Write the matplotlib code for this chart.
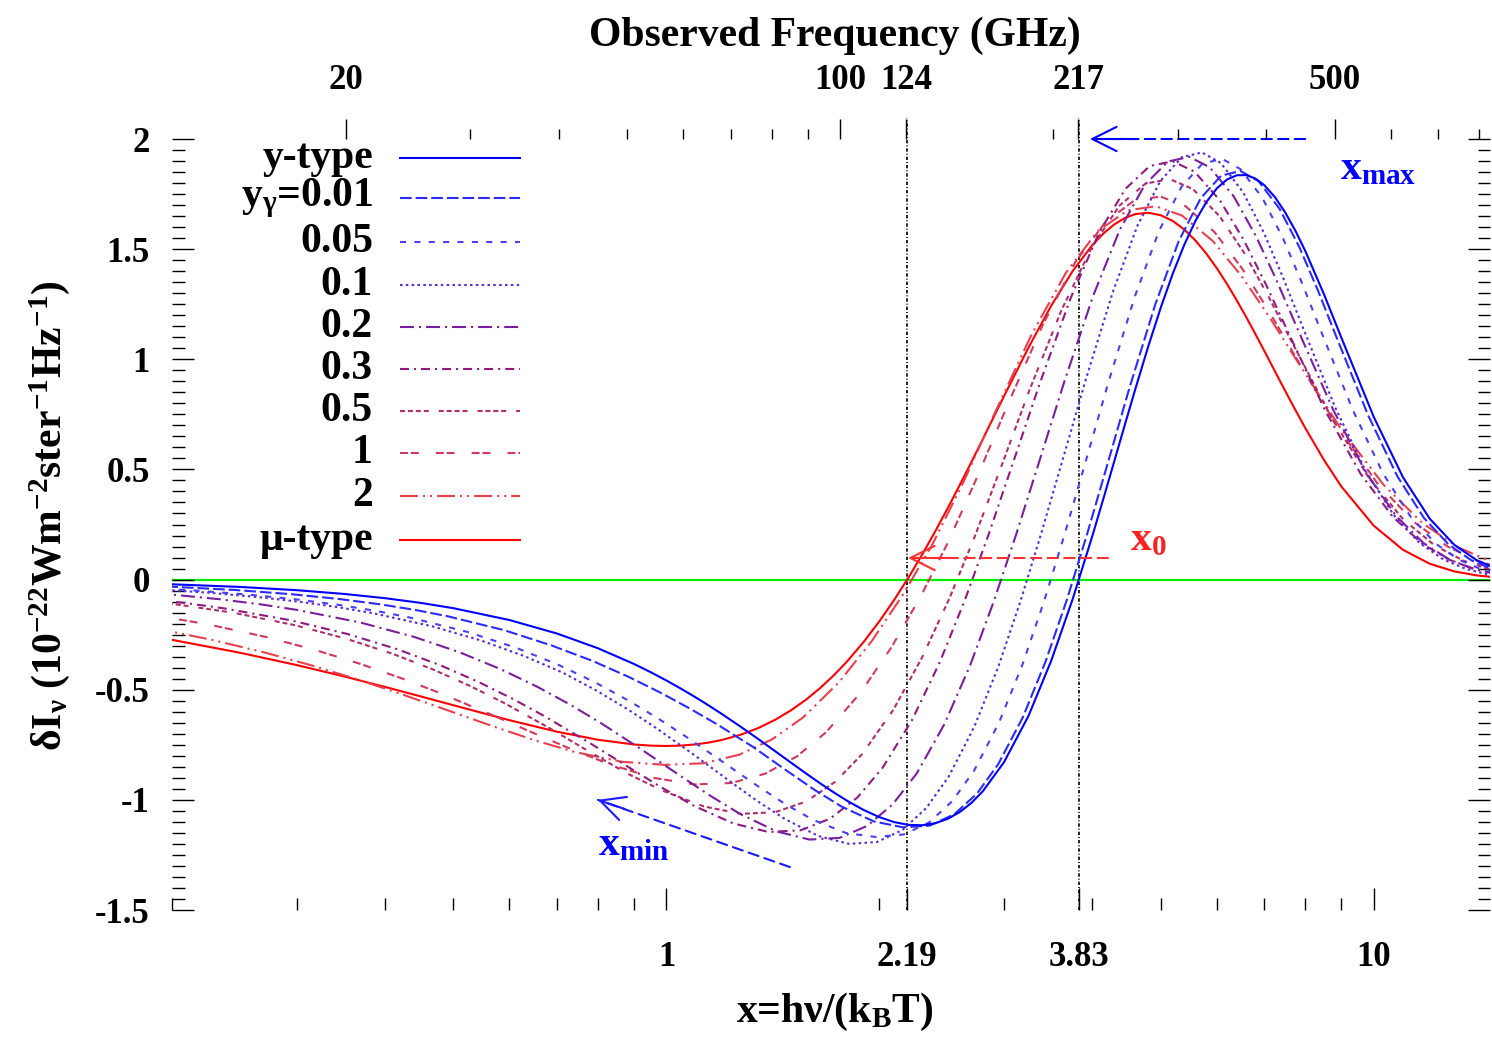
import matplotlib
matplotlib.use('Agg')
import numpy as np
import matplotlib.pyplot as plt
from matplotlib.ticker import FixedLocator, FixedFormatter, NullFormatter
from matplotlib.lines import Line2D

plt.rcParams['font.family'] = ['Liberation Serif', 'DejaVu Serif']
plt.rcParams['font.weight'] = 'bold'
plt.rcParams['mathtext.fontset'] = 'custom'
plt.rcParams['mathtext.rm'] = 'Liberation Serif:bold'
plt.rcParams['mathtext.it'] = 'Liberation Serif:bold'
plt.rcParams['mathtext.bf'] = 'Liberation Serif:bold'
plt.rcParams['axes.unicode_minus'] = False

# GHz per unit of x = h nu / (k T), T = 2.725 K
GHZ_PER_X = 56.78

# ---- data ----
x_grid = [0.2, 0.25, 0.3, 0.35, 0.4, 0.45, 0.5, 0.6, 0.7, 0.8,
          0.9, 0.95, 1.0, 1.05, 1.1, 1.15, 1.2, 1.275, 1.35, 1.425,
          1.5, 1.575, 1.65, 1.725, 1.8, 1.9, 2.0, 2.1, 2.2, 2.3,
          2.4, 2.5, 2.6, 2.7, 2.8, 3.0, 3.25, 3.5, 3.75, 4.0,
          4.15, 4.3, 4.45, 4.6, 4.8, 5.0, 5.2, 5.4, 5.6, 5.8,
          6.0, 6.2, 6.4, 6.6, 6.8, 7.0, 7.25, 7.5, 7.75, 8.0,
          8.5, 9.0, 10, 11, 12, 13, 14, 15]

dI_ytype = [-0.0215, -0.0335, -0.0481, -0.0651, -0.0844, -0.1061, -0.1300, -0.1837, -0.2447, -0.3116,
            -0.3832, -0.4203, -0.4581, -0.4963, -0.5348, -0.5734, -0.6119, -0.6691, -0.7251, -0.7793,
            -0.8310, -0.8798, -0.9252, -0.9666, -1.0037, -1.0457, -1.0784, -1.1012, -1.1136, -1.1153,
            -1.1060, -1.0858, -1.0548, -1.0133, -0.9616, -0.8299, -0.6189, -0.3682, -0.0917, 0.1968,
            0.3701, 0.5404, 0.7055, 0.8630, 1.0588, 1.2353, 1.3900, 1.5218, 1.6299, 1.7143,
            1.7759, 1.8157, 1.8353, 1.8363, 1.8209, 1.7909, 1.7361, 1.6656, 1.5831, 1.4925,
            1.2968, 1.0979, 0.7384, 0.4639, 0.2762, 0.1575, 0.0866, 0.0462]

dI_mutype = [-0.2735, -0.3327, -0.3880, -0.4395, -0.4872, -0.5308, -0.5706, -0.6384, -0.6905, -0.7271,
             -0.7486, -0.7538, -0.7554, -0.7535, -0.7482, -0.7395, -0.7275, -0.7037, -0.6732, -0.6364,
             -0.5936, -0.5454, -0.4921, -0.4342, -0.3721, -0.2836, -0.1897, -0.0914, 0.0103, 0.1143,
             0.2196, 0.3254, 0.4306, 0.5346, 0.6365, 0.8315, 1.0529, 1.2434, 1.3990, 1.5180,
             1.5719, 1.6129, 1.6419, 1.6590, 1.6652, 1.6540, 1.6277, 1.5884, 1.5382, 1.4793,
             1.4135, 1.3427, 1.2686, 1.1924, 1.1156, 1.0392, 0.9455, 0.8552, 0.7692, 0.6885,
             0.5439, 0.4225, 0.2445, 0.1350, 0.0718, 0.0370, 0.0186, 0.0091]

x_yg001 = [0.1963, 0.2454, 0.2945, 0.3436, 0.3927, 0.4418, 0.4909, 0.5891, 0.6872, 0.7854,
           0.8836, 0.9818, 1.080, 1.178, 1.325, 1.473, 1.620, 1.767, 1.964, 2.160, 2.356,
           2.553, 2.749, 2.945, 3.191, 3.436, 3.682, 3.927, 4.222, 4.516, 4.909, 5.301, 5.694,
           6.087, 6.480, 6.872, 7.363, 7.854, 8.345, 8.836, 9.818, 10.80, 11.78, 12.76, 13.74,
           14.73, 15.71]
dI_yg001 = [-0.0312, -0.0472, -0.0662, -0.0877, -0.1117, -0.1380, -0.1667, -0.2293, -0.2985,
            -0.3686, -0.4411, -0.5140, -0.5861, -0.6560, -0.7592, -0.8634, -0.9548, -1.0298,
            -1.0978, -1.1247, -1.1171, -1.0653, -0.9712, -0.8382, -0.6251, -0.3719, -0.0926,
            0.1988, 0.5458, 0.8716, 1.2477, 1.5370, 1.7314, 1.8339, 1.8547, 1.8088, 1.6823,
            1.5074, 1.3098, 1.1089, 0.7458, 0.4685, 0.2790, 0.1591, 0.0875, 0.0467, 0.0242]

x_yg005 = [0.1698, 0.2134, 0.2572, 0.3012, 0.3454, 0.3897, 0.4341, 0.5232, 0.6128, 0.7026,
           0.7927, 0.8831, 0.9737, 1.0645, 1.2010, 1.3379, 1.4752, 1.6126, 1.7965, 1.9808,
           2.1655, 2.3506, 2.5361, 2.7219, 2.9546, 3.1876, 3.4210, 3.6550, 3.9360, 4.2176,
           4.5940, 4.9705, 5.3482, 5.7259, 6.1052, 6.4850, 6.9601, 7.4357, 7.9119, 8.3889,
           9.346, 10.304, 11.264, 12.227, 13.192, 14.157, 15.123]
dI_yg005 = [-0.0323, -0.0488, -0.0685, -0.0908, -0.1156, -0.1430, -0.1726, -0.2376, -0.3094,
            -0.3862, -0.4664, -0.5485, -0.6308, -0.7118, -0.8274, -0.9317, -1.0210, -1.0911,
            -1.1510, -1.1686, -1.1569, -1.1033, -1.0058, -0.8681, -0.6474, -0.3851, -0.0959,
            0.2047, 0.5620, 0.8975, 1.2847, 1.5827, 1.7829, 1.8883, 1.9098, 1.8625, 1.7322,
            1.5522, 1.3487, 1.1418, 0.7679, 0.4825, 0.2872, 0.1638, 0.0901, 0.0480, 0.0250]

x_yg01 = [0.1478, 0.1866, 0.2258, 0.2653, 0.3050, 0.3450, 0.3852, 0.4661, 0.5476, 0.6296,
          0.7121, 0.7951, 0.8783, 0.9619, 1.0879, 1.2146, 1.3419, 1.4697, 1.6409, 1.8127,
          1.9854, 2.1585, 2.3325, 2.5069, 2.7257, 2.9454, 3.1656, 3.3865, 3.6527, 3.9194,
          4.2761, 4.6345, 4.9941, 5.3547, 5.7158, 6.0786, 6.5336, 6.9892, 7.4468, 7.9050,
          8.8258, 9.750, 10.679, 11.611, 12.545, 13.484, 14.424, 15.37]
dI_yg01 = [-0.0280, -0.0425, -0.0599, -0.0797, -0.1019, -0.1264, -0.1530, -0.2118, -0.2771,
           -0.3473, -0.4211, -0.5026, -0.5855, -0.6686, -0.7901, -0.9033, -1.0035, -1.0865,
           -1.1645, -1.1999, -1.1912, -1.1360, -1.0356, -0.8938, -0.6666, -0.3966, -0.0988,
           0.2078, 0.5707, 0.9113, 1.3045, 1.6070, 1.8103, 1.9174, 1.9391, 1.8912, 1.7589,
           1.5761, 1.3694, 1.1594, 0.7798, 0.4899, 0.2917, 0.1663, 0.0914, 0.0488, 0.0253,
           0.0129]

x_yg02 = [0.1072, 0.1378, 0.1692, 0.2012, 0.2339, 0.2670, 0.3006, 0.3691, 0.4390, 0.5103,
          0.5825, 0.6558, 0.7302, 0.8054, 0.9196, 1.0353, 1.1526, 1.2711, 1.4312, 1.5933,
          1.7572, 1.9229, 2.0903, 2.2591, 2.4720, 2.6872, 2.9043, 3.1229, 3.3878, 3.6551,
          4.0145, 4.3780, 4.7448, 5.1146, 5.4875, 5.8629, 6.3364, 6.8144, 7.2954, 7.7798,
          8.7599, 9.752, 10.755, 11.769, 12.796, 13.825, 14.866, 15.91]
dI_yg02 = [-0.0228, -0.0355, -0.0510, -0.0690, -0.0895, -0.1125, -0.1378, -0.1947, -0.2594,
           -0.3303, -0.4062, -0.4856, -0.5669, -0.6486, -0.7686, -0.8809, -0.9807, -1.0639,
           -1.1431, -1.1804, -1.1724, -1.1181, -1.0193, -0.8797, -0.6560, -0.3903, -0.0972,
           0.2057, 0.5647, 0.9018, 1.2909, 1.5903, 1.7914, 1.8974, 1.9189, 1.8715, 1.7406,
           1.5597, 1.3552, 1.1473, 0.7716, 0.4848, 0.2886, 0.1646, 0.0905, 0.0483, 0.0251,
           0.0127]

x_yg03 = [0.1543, 0.1810, 0.2085, 0.2365, 0.2942, 0.3538, 0.4153, 0.4782, 0.5425, 0.6081,
          0.6748, 0.7771, 0.8816, 0.9882, 1.0966, 1.2445, 1.3946, 1.5478, 1.7035, 1.8616,
          2.0220, 2.2251, 2.4320, 2.6413, 2.8535, 3.1119, 3.3735, 3.7279, 4.0878, 4.4533,
          4.8235, 5.1984, 5.5788, 6.0585, 6.5450, 7.0381, 7.5366, 8.5503, 9.584, 10.636,
          11.707, 12.796, 13.895, 15.01, 16.14]
dI_yg03 = [-0.0648, -0.0842, -0.1062, -0.1303, -0.1847, -0.2468, -0.3149, -0.3881, -0.4648,
           -0.5436, -0.6229, -0.7396, -0.8492, -0.9470, -1.0289, -1.1075, -1.1459, -1.1381,
           -1.0854, -0.9895, -0.8540, -0.6368, -0.3789, -0.0944, 0.2035, 0.5588, 0.8923,
           1.2773, 1.5735, 1.7726, 1.8774, 1.8987, 1.8518, 1.7222, 1.5432, 1.3409, 1.1352,
           0.7635, 0.4797, 0.2856, 0.1629, 0.0895, 0.0478, 0.0248, 0.0126]

x_yg05 = [0.1697, 0.1940, 0.2446, 0.2976, 0.3525, 0.4095, 0.4681, 0.5285, 0.5902, 0.6854,
          0.7837, 0.8845, 0.9880, 1.1295, 1.2749, 1.4240, 1.5765, 1.7320, 1.8910, 2.0933,
          2.3002, 2.5107, 2.7251, 2.9874, 3.2550, 3.6186, 3.9903, 4.3697, 4.7563, 5.1492,
          5.5492, 6.0572, 6.5752, 7.1015, 7.6366, 8.7307, 9.8544, 11.006, 12.184, 13.388,
          14.614, 15.86]
dI_yg05 = [-0.0830, -0.1035, -0.1509, -0.2062, -0.2683, -0.3361, -0.4085, -0.4839, -0.5610,
           -0.6765, -0.7873, -0.8836, -0.9585, -1.0299, -1.0635, -1.0562, -1.0073, -0.9183,
           -0.7926, -0.5910, -0.3516, -0.0876, 0.1909, 0.5296, 0.8544, 1.2229, 1.5066,
           1.6972, 1.7975, 1.8179, 1.7730, 1.6489, 1.4776, 1.2838, 1.0869, 0.7310, 0.4593,
           0.2734, 0.1559, 0.0857, 0.0457, 0.0238]

x_yg1 = [0.1824, 0.2256, 0.2713, 0.3191, 0.3691, 0.4210, 0.4747, 0.5585, 0.6460, 0.7368,
         0.8308, 0.9608, 1.0958, 1.2361, 1.3800, 1.5288, 1.6816, 1.8780, 2.0803, 2.2882,
         2.5012, 2.7638, 3.0333, 3.4033, 3.7848, 4.1774, 4.5799, 4.9927, 5.4153, 5.9563,
         6.5109, 7.0795, 7.6606, 8.8583, 10.105, 11.396, 12.729, 14.096, 15.50]
dI_yg1 = [-0.1534, -0.2043, -0.2602, -0.3200, -0.3825, -0.4466, -0.5109, -0.6055, -0.6939,
          -0.7725, -0.8381, -0.9005, -0.9299, -0.9235, -0.8808, -0.8029, -0.6930, -0.5168,
          -0.3074, -0.0766, 0.1692, 0.4810, 0.7896, 1.1550, 1.4411, 1.6234, 1.7195, 1.7390,
          1.6960, 1.5773, 1.4134, 1.2281, 1.0397, 0.6993, 0.4393, 0.2616, 0.1492, 0.0820,
          0.0438]

x_yg2 = [0.1878, 0.2280, 0.2706, 0.3155, 0.3625, 0.4113, 0.4882, 0.5692, 0.6538, 0.7421,
         0.8650, 0.9937, 1.1279, 1.2672, 1.4114, 1.5606, 1.7534, 1.9530, 2.1591, 2.3720,
         2.6352, 2.9071, 3.2818, 3.6706, 4.0731, 4.4883, 4.9154, 5.3547, 5.9203, 6.5033,
         7.1036, 7.7191, 8.9990, 10.337, 11.731, 13.181, 14.68, 16.23]
dI_yg2 = [-0.2190, -0.2739, -0.3313, -0.3902, -0.4492, -0.5075, -0.5910, -0.6665, -0.7313,
          -0.7827, -0.8270, -0.8410, -0.8339, -0.7953, -0.7250, -0.6257, -0.4667, -0.2776,
          -0.0691, 0.1535, 0.4485, 0.7508, 1.1118, 1.3924, 1.5823, 1.6759, 1.6949, 1.6530,
          1.5374, 1.3776, 1.1969, 1.0134, 0.6815, 0.4282, 0.2549, 0.1454, 0.0799, 0.0426]

labels = ['y-type', r'y$_{\gamma}$=0.01', '0.05', '0.1', '0.2', '0.3', '0.5', '1', '2', 'μ-type']

x0_mu = 2.19
x0_y = 3.83
bottom_ticks = [1, 2.19, 3.83, 10]
bottom_labels = ['1', '2.19', '3.83', '10']
top_ticks = [20, 100, 124, 217, 500]
top_labels = ['20', '100', '124', '217', '500']

# ---- styles ----
series = [
    (x_grid, dI_ytype, '#0000ff', '-'),
    (x_yg001, dI_yg001, '#2b2bff', (0, (5.6, 1.9))),
    (x_yg005, dI_yg005, '#4a40f0', (0, (2.9, 4.0))),
    (x_yg01, dI_yg01, '#5a2ad8', (0, (1.2, 1.6))),
    (x_yg02, dI_yg02, '#7a1e9e', (0, (6.7, 2.4, 1.0, 2.4))),
    (x_yg03, dI_yg03, '#8f1a80', (0, (4.3, 2.4, 1.0, 2.4))),
    (x_yg05, dI_yg05, '#b02e6e', (0, (2.4, 1.4, 2.4, 1.4, 2.4, 1.4, 2.4, 4.8))),
    (x_yg1, dI_yg1, '#d03a5c', (0, (3.8, 1.4, 3.8, 8.2))),
    (x_yg2, dI_yg2, '#e8404e', (0, (8.6, 2.4, 1.0, 2.4, 1.0, 2.4))),
    (x_grid, dI_mutype, '#ff0000', '-'),
]

fig = plt.figure(figsize=(14.92, 10.41), dpi=100)
ax = fig.add_axes([0.11528, 0.12584, 0.88338, 0.74063])
ax.set_xscale('log')
ax.set_xlim(0.2, 14.6)
ax.set_ylim(-1.5, 2.0)

ax2 = ax.twiny()
ax2.set_xscale('log')
ax2.set_xlim(0.2 * GHZ_PER_X, 14.6 * GHZ_PER_X)

for a in (ax, ax2):
    for s in a.spines.values():
        s.set_visible(False)

ax.axhline(0, color='#00ee00', lw=1.6, zorder=1)
for xv in (x0_mu, x0_y):
    ax.axvline(xv, ymax=1.027, clip_on=False, color='k', lw=1.2,
               ls=(0, (2, 1.2, 0.6, 1.2)), zorder=2)

for xs, ys, col, ls in series[::-1]:
    ax.plot(xs, ys, color=col, ls=ls, lw=1.5, zorder=3)

# bottom axis
ax.xaxis.set_major_locator(FixedLocator(bottom_ticks))
ax.xaxis.set_major_formatter(FixedFormatter(bottom_labels))
ax.xaxis.set_minor_locator(FixedLocator([0.2, 0.3, 0.4, 0.5, 0.6, 0.7, 0.8, 0.9,
                                         2, 3, 4, 5, 6, 7, 8, 9]))
ax.xaxis.set_minor_formatter(NullFormatter())
# y axis
ax.yaxis.set_major_locator(FixedLocator([-1.5, -1, -0.5, 0, 0.5, 1, 1.5, 2]))
ax.yaxis.set_major_formatter(FixedFormatter(['-1.5', '-1', '-0.5', '0', '0.5', '1', '1.5', '2']))
ax.yaxis.set_minor_locator(FixedLocator(np.arange(-1.5, 2.0001, 0.05)))
ax.tick_params(which='both', direction='in', width=1.0, labelsize=25,
               left=True, right=True, bottom=True, top=False)
ax.tick_params(which='major', length=15.5)
ax.tick_params(which='minor', length=9)
ax.tick_params(axis='x', pad=22)
ax.tick_params(axis='y', pad=16)

# top axis
ax2.xaxis.set_major_locator(FixedLocator(top_ticks))
ax2.xaxis.set_major_formatter(FixedFormatter(top_labels))
ax2.xaxis.set_minor_locator(FixedLocator([30, 40, 50, 60, 70, 80, 90, 200, 300, 400,
                                          600, 700, 800]))
ax2.xaxis.set_minor_formatter(NullFormatter())
ax2.tick_params(axis='x', which='both', direction='out', width=1.0, labelsize=25, pad=16)
ax2.tick_params(axis='x', which='major', length=14.4)
ax2.tick_params(axis='x', which='minor', length=7.2)

# legend, drawn by hand so labels sit right-aligned next to the samples
row_px = [158, 198, 242, 285, 327, 369, 411, 453, 496, 540]
for (xs, ys, col, ls), lab, py in zip(series, labels, row_px):
    yf = (910 - py) / 771.0
    ax.text(0.1525, yf, lab, transform=ax.transAxes, ha='right', va='center',
            fontsize=30, fontweight='bold')
    ax.add_line(Line2D([0.173, 0.264], [yf, yf], transform=ax.transAxes,
                       color=col, ls=ls, lw=1.5))

# annotations
def dashed_arrow(tail, tip, near, col):
    ax.annotate('', xy=tip, xytext=tail,
                arrowprops=dict(arrowstyle='-', color=col, lw=1.5, ls=(0, (5, 3)),
                                shrinkA=0, shrinkB=0))
    ax.annotate('', xy=tip, xytext=near,
                arrowprops=dict(arrowstyle='->,head_length=0.7,head_width=0.35',
                                color=col, lw=1.5, mutation_scale=25,
                                shrinkA=0, shrinkB=0))

dashed_arrow((8.0, 2.0), (3.97, 2.0), (4.6, 2.0), '#0000ff')
dashed_arrow((4.21, 0.098), (2.196, 0.098), (2.5, 0.098), '#ff3030')
dashed_arrow((1.495, -1.305), (0.80, -1.0), (0.874, -1.042), '#1a1aff')

ax.text(8.95, 1.815, r'x$_{\mathrm{max}}$', color='#0000ff', fontsize=30,
        ha='left', va='baseline')
ax.text(4.52, 0.134, r'x$_{0}$', color='#ff2020', fontsize=30, ha='left', va='baseline')
ax.text(0.80, -1.25, r'x$_{\mathrm{min}}$', color='#0000ff', fontsize=30,
        ha='left', va='baseline')

fig.text(0.5597, 0.966, 'Observed Frequency (GHz)', ha='center', va='center',
         fontsize=30, fontweight='bold')
fig.text(0.5597, 0.028, r'x=hν/(k$_{\mathrm{B}}$T)', ha='center', va='center',
         fontsize=30, fontweight='bold')
fig.text(0.033, 0.505, r'δI$_{\nu}$ (10$^{-22}$Wm$^{-2}$ster$^{-1}$Hz$^{-1}$)',
         rotation=90, ha='center', va='center', fontsize=30, fontweight='bold')

fig.savefig('out.png', dpi=100, facecolor='white')
